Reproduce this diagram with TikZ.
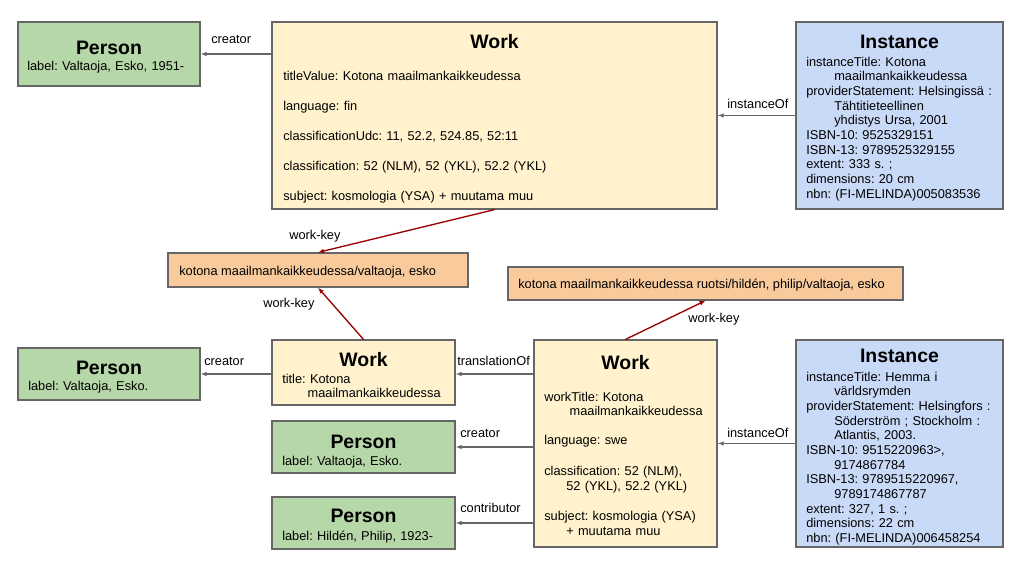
\documentclass[tikz,border=0pt]{standalone}
\usepackage{fontspec}
\setmainfont{Liberation Sans}
\usepackage{tikz}
\usetikzlibrary{positioning,arrows.meta}
\definecolor{persongreen}{HTML}{B6D7A8}
\definecolor{workyellow}{HTML}{FFF2CC}
\definecolor{instblue}{HTML}{C9DAF8}
\definecolor{keyorange}{HTML}{F9CB9C}
\definecolor{edgegray}{HTML}{666666}
\definecolor{keyred}{HTML}{990000}
\frenchspacing

\begin{document}
\begin{tikzpicture}[x=0.75pt, y=-0.75pt,
      >={Latex[length=4.5pt,width=3.5pt]},
      box/.style={rectangle, draw=edgegray, line width=0.9pt, inner sep=0pt},
      person/.style={box, fill=persongreen, minimum width=136.5pt, minimum height=39pt},
      work/.style={box, fill=workyellow},
      instance/.style={box, fill=instblue, minimum width=155.25pt, minimum height=140.25pt},
      workkey/.style={box, fill=keyorange, minimum height=25.5pt},
      boxtitle/.style={font=\fontsize{14.6}{17}\selectfont\bfseries, anchor=base, inner sep=0pt},
      boxtext/.style={font=\fontsize{9.6}{11}\selectfont\frenchspacing, anchor=base west, inner sep=0pt, align=left},
      rel/.style={font=\fontsize{9.6}{11}\selectfont\frenchspacing, anchor=base west, inner sep=0pt},
      link/.style={->, draw=edgegray, line width=0.9pt},
      keylink/.style={->, draw=keyred, line width=1pt}
      ]
      \fill[white] (0,0) rectangle (1024,576);
      \useasboundingbox (0,0) rectangle (1024,576);

      % boxes
      \node[person, minimum height=48pt] (P1) at (109,54) {};
      \node[work, minimum width=333.75pt, minimum height=140.25pt] (W1) at (494.5,115.5) {};
      \node[instance] (I1) at (899.5,115.5) {};
      \node[workkey, minimum width=225pt] (K1) at (318,270) {};
      \node[workkey, minimum width=296.25pt, minimum height=24.75pt] (K2) at (705.5,283.5) {};
      \node[person] (P2) at (109,374) {};
      \node[work, minimum width=137.25pt, minimum height=48.75pt] (W2) at (363.5,372.5) {};
      \node[person, minimum width=137.25pt] (P3) at (363.5,447) {};
      \node[person, minimum width=137.25pt] (P4) at (363.5,523) {};
      \node[work, minimum width=137.25pt, minimum height=155.25pt] (W3) at (625.5,443.5) {};
      \node[instance, minimum height=155.25pt] (I2) at (899.5,443.5) {};

      % texts
      \node[boxtitle] (P1t) at (109,54) {Person};
      \node[boxtext, text width=127pt] (P1b) at (27,70) {label: Valtaoja, Esko, 1951-};
      \node[boxtitle] (W1t) at (494.5,48) {Work};
      \node[boxtext, text width=315pt] (W1b) at (283,80) {titleValue: Kotona maailmankaikkeudessa\\[11.5pt]
        language: fin\\[11.5pt]
        classificationUdc: 11, 52.2, 524.85, 52:11\\[11.5pt]
        classification: 52 (NLM), 52 (YKL), 52.2 (YKL)\\[11.5pt]
        subject: kosmologia (YSA) + muutama muu};
      \node[boxtitle] (I1t) at (899.5,48) {Instance};
      \node[boxtext, text width=146pt] (I1b) at (806,66) {instanceTitle: Kotona\\
        \hspace*{21pt}maailmankaikkeudessa\\
        providerStatement: Helsingissä :\\
        \hspace*{21pt}Tähtitieteellinen\\
        \hspace*{21pt}yhdistys Ursa, 2001\\
        ISBN-10: 9525329151\\
        ISBN-13: 9789525329155\\
        extent: 333 s. ;\\
        dimensions: 20 cm\\
        nbn: (FI-MELINDA)005083536};
      \node[rel] (K1t) at (179,275) {kotona maailmankaikkeudessa/valtaoja, esko};
      \node[rel] (K2t) at (518,288) {kotona maailmankaikkeudessa ruotsi/hildén, philip/valtaoja, esko};
      \node[boxtitle] (P2t) at (109,374) {Person};
      \node[boxtext, text width=127pt] (P2b) at (28,390) {label: Valtaoja, Esko.};
      \node[boxtitle] (W2t) at (363.5,366) {Work};
      \node[boxtext, text width=127pt] (W2b) at (282,383) {title: Kotona\\
        \hspace*{19pt}maailmankaikkeudessa};
      \node[boxtitle] (P3t) at (363.5,448) {Person};
      \node[boxtext, text width=127pt] (P3b) at (282,465) {label: Valtaoja, Esko.};
      \node[boxtitle] (P4t) at (363.5,522) {Person};
      \node[boxtext, text width=127pt] (P4b) at (282,540) {label: Hildén, Philip, 1923-};
      \node[boxtitle] (W3t) at (625.5,369) {Work};
      \node[boxtext, text width=126pt] (W3b) at (544,401) {workTitle: Kotona\\
        \hspace*{19pt}maailmankaikkeudessa\\[10.75pt]
        language: swe\\[12pt]
        classification: 52 (NLM),\\
        \hspace*{16.5pt}52 (YKL), 52.2 (YKL)\\[12pt]
        subject: kosmologia (YSA)\\
        \hspace*{16.5pt}+ muutama muu};
      \node[boxtitle] (I2t) at (899.5,362) {Instance};
      \node[boxtext, text width=146pt] (I2b) at (806,381) {instanceTitle: Hemma i\\
        \hspace*{21pt}världsrymden\\
        providerStatement: Helsingfors :\\
        \hspace*{21pt}Söderström ; Stockholm :\\
        \hspace*{21pt}Atlantis, 2003.\\
        ISBN-10: 9515220963>,\\
        \hspace*{21pt}9174867784\\
        ISBN-13: 9789515220967,\\
        \hspace*{21pt}9789174867787\\
        extent: 327, 1 s. ;\\
        dimensions: 22 cm\\
        nbn: (FI-MELINDA)006458254};

      % connectors
      \draw[link] (W1.west |- P1.east) -- (P1.east);
      \draw[link] (I1.west) -- (W1.east);
      \draw[keylink] (W1.south) -- (K1.north);
      \draw[keylink] (W2.north) -- (K1.south);
      \draw[keylink] (W3.north) -- (K2.south);
      \draw[link] (W2.west |- P2.east) -- (P2.east);
      \draw[link] (W3.west |- P2.east) -- (W2.east |- P2.east);
      \draw[link] (W3.west |- P3.east) -- (P3.east);
      \draw[link] (W3.west |- P4.east) -- (P4.east);
      \draw[link] (I2.west) -- (W3.east);

      % connector labels
      \node[rel] (L1) at (211,43) {creator};
      \node[rel] (L2) at (727,108) {instanceOf};
      \node[rel] (L3) at (289,239) {work-key};
      \node[rel] (L4) at (263,307) {work-key};
      \node[rel] (L5) at (688,322) {work-key};
      \node[rel] (L6) at (204,365) {creator};
      \node[rel] (L7) at (457,365) {translationOf};
      \node[rel] (L8) at (460,437) {creator};
      \node[rel] (L9) at (460,512) {contributor};
      \node[rel] (L10) at (727,437) {instanceOf};
    \end{tikzpicture}
\end{document}
